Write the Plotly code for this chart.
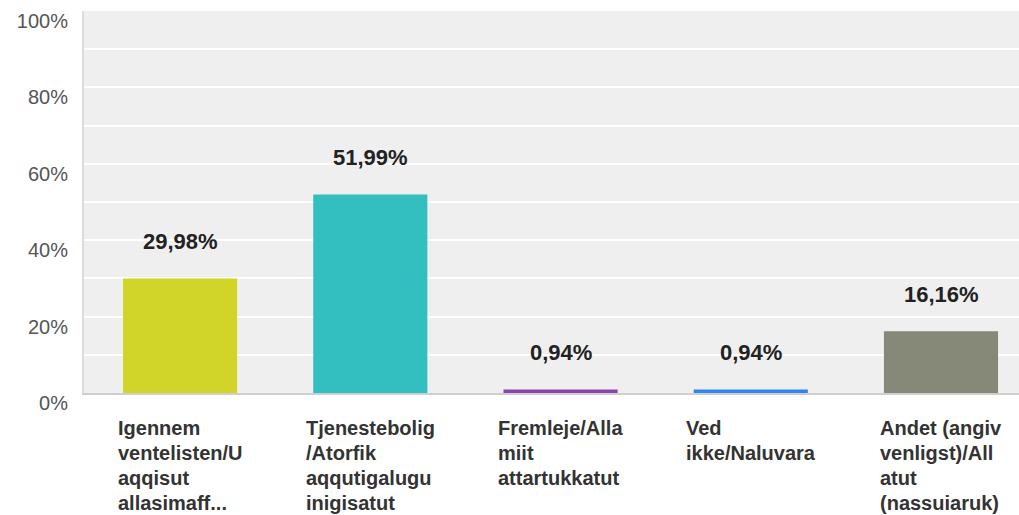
import plotly.graph_objects as go

categories = [
    "Igennem<br>ventelisten/U<br>aqqisut<br>allasimaff...",
    "Tjenestebolig<br>/Atorfik<br>aqqutigalugu<br>inigisatut",
    "Fremleje/Alla<br>miit<br>attartukkatut",
    "Ved<br>ikke/Naluvara",
    "Andet (angiv<br>venligst)/All<br>atut<br>(nassuiaruk)",
]
values = [29.98, 51.99, 0.94, 0.94, 16.16]
value_labels = ["29,98%", "51,99%", "0,94%", "0,94%", "16,16%"]
colors = ["#d1d52a", "#33bfc0", "#8e44ad", "#3184ec", "#868978"]
y_tickvals = [0, 20, 40, 60, 80, 100]
y_ticktext = ["0%", "20%", "40%", "60%", "80%", "100%"]

fig = go.Figure()
fig.add_trace(go.Bar(
    x=categories, y=values, width=0.6,
    marker=dict(color=colors, line=dict(width=0)),
    hoverinfo="skip",
))

annotations = []
for c, v, t in zip(categories, values, value_labels):
    annotations.append(dict(
        x=c, y=v, xref="x", yref="y", text=t, showarrow=False,
        xanchor="center", yanchor="middle", yshift=37,
        font=dict(family="Liberation Sans, Arial", size=22, color="#222222", weight="bold"),
    ))
    annotations.append(dict(
        x=c, y=0, xref="x", yref="paper",
        text='<span style="font-size:20px">' + c + '</span>', showarrow=False,
        xanchor="center", yanchor="top", yshift=-22, align="left",
        font=dict(family="Liberation Sans, Arial", size=19.3, color="#333333", weight="bold"),
    ))

fig.update_layout(
    width=1019, height=515,
    margin=dict(l=84, r=0, t=11, b=122, pad=0),
    paper_bgcolor="white", plot_bgcolor="#efefef",
    showlegend=False,
    annotations=annotations,
    font=dict(family="Liberation Sans, Arial"),
)
fig.update_xaxes(
    range=[-0.505, 4.41], showticklabels=False, showgrid=False,
    showline=True, linecolor="#cfcfcf", linewidth=2, ticks="", zeroline=False,
)
fig.update_yaxes(
    range=[0, 100], tickvals=y_tickvals, ticktext=y_ticktext,
    showgrid=True, gridcolor="#ffffff", gridwidth=1.5,
    minor=dict(dtick=10, showgrid=True, gridcolor="#ffffff", gridwidth=1.5),
    showline=True, linecolor="#dcdcdc", linewidth=2, zeroline=False,
    ticklabelposition="outside bottom", ticks="", ticklabelstandoff=10,
    ticklabelshift=-4,
    tickfont=dict(family="Liberation Sans, Arial", size=20, color="#555555"),
)

fig.write_html(
    "out.html",
    config={"displayModeBar": False},
    post_script="document.body.style.margin='0';document.body.style.overflow='hidden';",
)
